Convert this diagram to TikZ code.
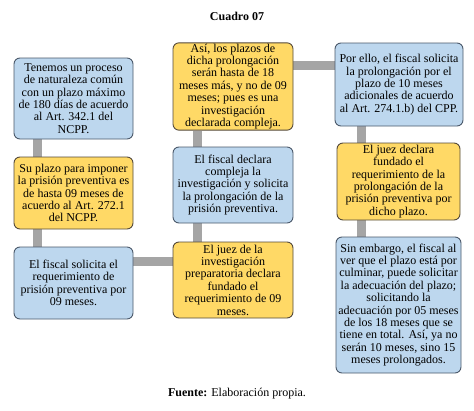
\documentclass[tikz,border=0pt]{standalone}
\usepackage{fontspec}
\setmainfont{Liberation Serif}
\usetikzlibrary{backgrounds}

\definecolor{boxblue}{HTML}{BDD7EE}
\definecolor{boxgold}{HTML}{FFD966}
\definecolor{edgeblue}{HTML}{4A586A}
\definecolor{edgegold}{HTML}{54493A}
\definecolor{linkgray}{HTML}{A5A5A5}

\tikzset{
  card/.style={rounded corners=6pt, line width=0.9pt, align=center, inner sep=1pt,
    font=\fontsize{12}{12.4}\selectfont},
  bluecard/.style={card, draw=edgeblue, fill=boxblue},
  goldcard/.style={card, draw=edgegold, fill=boxgold},
  link/.style={line width=9pt, draw=linkgray}
}

\begin{document}
\begin{tikzpicture}[x=1pt,y=-1pt]
  \useasboundingbox (0,0) rectangle (474,410);
  \node[font=\fontsize{12}{13}\selectfont\bfseries] (title) at (237,16) {Cuadro 07};

  % primera columna
  \node[bluecard, minimum width=119pt, minimum height=81pt] (b1) at (73.5,98.5)
    {Tenemos un proceso\\ de naturaleza común\\ con un plazo máximo\\ de 180 días de acuerdo\\ al Art. 342.1 del\\ NCPP.};
  \node[goldcard, minimum width=119pt, minimum height=72pt] (b2) at (73.5,193)
    {Su plazo para imponer\\ la prisión preventiva es\\ de hasta 09 meses de\\ acuerdo al Art. 272.1\\ del NCPP.};
  \node[bluecard, minimum width=119pt, minimum height=72pt] (b3) at (73.5,283)
    {El fiscal solicita el\\ requerimiento de\\ prisión preventiva por\\ 09 meses.};

  % segunda columna
  \node[goldcard, minimum width=120pt, minimum height=87pt] (b4) at (233,86.5)
    {Así, los plazos de\\ dicha prolongación\\ serán hasta de 18\\ meses más, y no de 09\\ meses; pues es una\\ investigación\\ declarada compleja.};
  \node[bluecard, minimum width=120pt, minimum height=76pt] (b5) at (233,185)
    {El fiscal declara\\ compleja la\\ investigación y solicita\\ la prolongación de la\\ prisión preventiva.};
  \node[goldcard, minimum width=120pt, minimum height=76pt] (b6) at (233,280)
    {El juez de la\\ investigación\\ preparatoria declara\\ fundado el\\ requerimiento de 09\\ meses.};

  % tercera columna
  \node[bluecard, minimum width=128pt, minimum height=83pt] (b7) at (399,84.5)
    {Por ello, el fiscal solicita\\ la prolongación por el\\ plazo de 10 meses\\ adicionales de acuerdo\\ al Art. 274.1.b) del CPP.};
  \node[goldcard, minimum width=123pt, minimum height=77pt] (b8) at (398.5,181.5)
    {El juez declara\\ fundado el\\ requerimiento de la\\ prolongación de la\\ prisión preventiva por\\ dicho plazo.};
  \node[bluecard, minimum width=125pt, minimum height=136pt] (b9) at (398.5,305)
    {Sin embargo, el fiscal al\\ ver que el plazo está por\\ culminar, puede solicitar\\ la adecuación del plazo;\\ solicitando la\\ adecuación por 05 meses\\ de los 18 meses que se\\ tiene en total. Así, ya no\\ serán 10 meses, sino 15\\ meses prolongados.};

  \node[font=\fontsize{12}{13}\selectfont] (src) at (237,394) {\textbf{Fuente:} Elaboración propia.};

  % conectores
  \coordinate (j36) at ([yshift=-15pt]b3.north east);
  \coordinate (j47) at ([yshift=-23pt]b4.north east);
  \begin{scope}[on background layer]
    \draw[link] ([xshift=24pt]b1.south west) -- ([xshift=24pt]b2.north west);
    \draw[link] ([xshift=24pt]b2.south west) -- ([xshift=24pt]b3.north west);
    \draw[link] (j36) -- (j36 -| b6.west);
    \draw[link] ([xshift=25pt]b6.north west) -- ([xshift=25pt]b5.south west);
    \draw[link] ([xshift=25pt]b5.north west) -- ([xshift=25pt]b4.south west);
    \draw[link] (j47) -- (j47 -| b7.west);
    \draw[link] ([xshift=27pt]b7.south west) -- ([xshift=25pt]b8.north west);
    \draw[link] ([xshift=25pt]b8.south west) -- ([xshift=26pt]b9.north west);
  \end{scope}
\end{tikzpicture}
\end{document}
